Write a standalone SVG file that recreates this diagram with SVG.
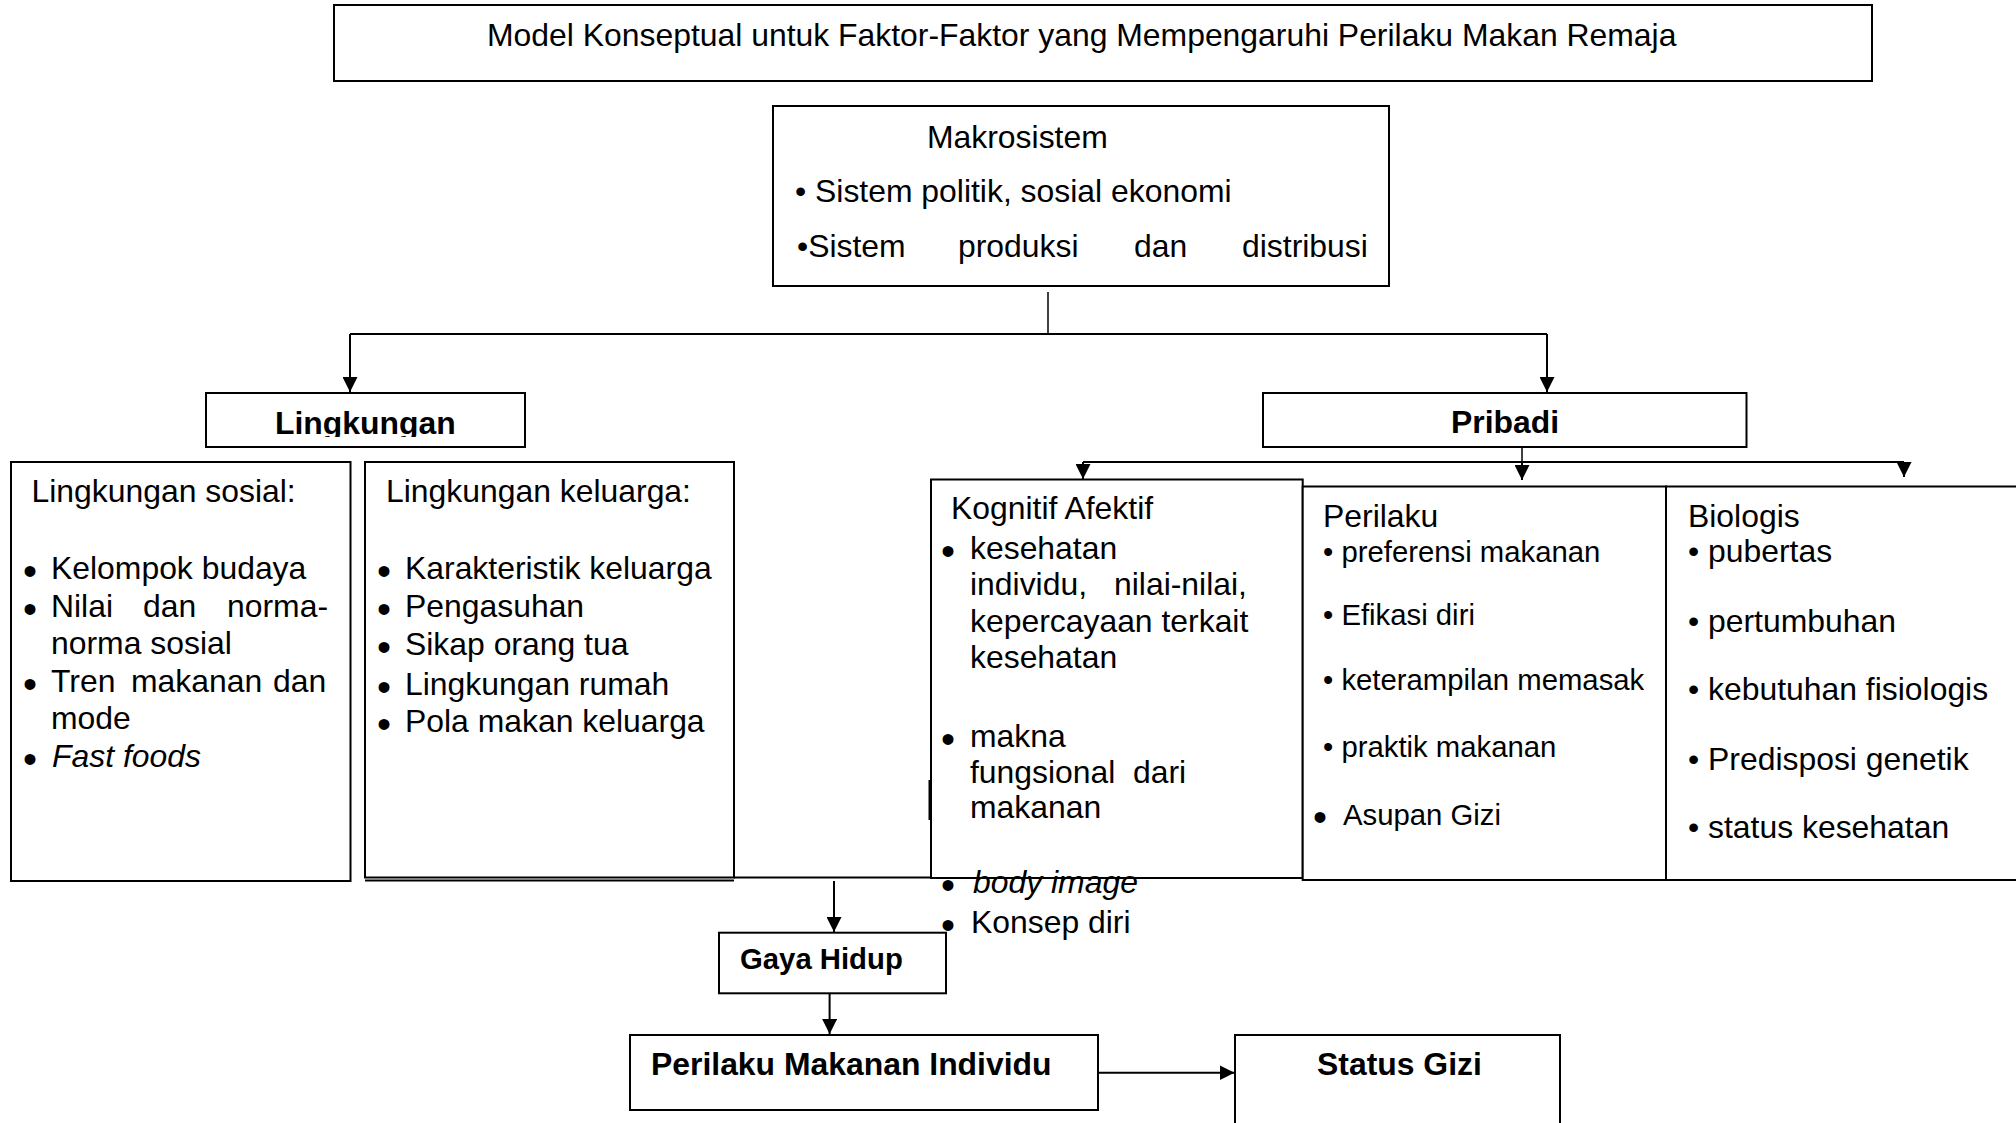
<svg xmlns="http://www.w3.org/2000/svg" width="2016" height="1123" viewBox="0 0 2016 1123">
<defs>
<style>
text{font-family:"Liberation Sans",Arial,sans-serif;fill:#000}
.t{font-size:31.9px}
.s{font-size:29.3px}
.b{font-weight:bold}
.i{font-style:italic}
.bl{font-size:40px;text-anchor:middle;font-style:normal}
.box{fill:#fff;stroke:#000;stroke-width:2}
.ln{fill:none;stroke:#000;stroke-width:2}
.thin{fill:none;stroke:#000;stroke-width:1.5}
</style>
<marker id="ah" markerWidth="15" markerHeight="15" refX="15" refY="7.5" orient="auto" markerUnits="userSpaceOnUse"><path d="M0,0 L15,7.5 L0,15 z" fill="#000"/></marker>
<clipPath id="clipL"><rect x="206" y="393" width="320" height="44"/></clipPath>
</defs>
<rect width="2016" height="1123" fill="#fff"/>

<g id="title">
<rect class="box" x="334" y="5" width="1538" height="76"/>
<text class="t" x="487" y="46">Model Konseptual untuk Faktor-Faktor yang Mempengaruhi Perilaku Makan Remaja</text>
</g>

<g id="makrosistem">
<rect class="box" x="773" y="106" width="616" height="180"/>
<text class="t" x="927" y="148">Makrosistem</text>
<text class="t" x="795" y="202">• Sistem politik, sosial ekonomi</text>
<text class="t" y="257"><tspan x="797">•Sistem</tspan><tspan x="958">produksi</tspan><tspan x="1134">dan</tspan><tspan x="1242">distribusi</tspan></text>
</g>

<g id="lingkungan">
<rect class="box" x="206" y="393" width="319" height="54"/>
<text class="t b" x="275" y="434" clip-path="url(#clipL)">Lingkungan</text>
</g>

<g id="pribadi">
<rect class="box" x="1263" y="393" width="483.5" height="54"/>
<text class="t b" x="1451" y="433">Pribadi</text>
</g>

<g id="lingkungan-sosial">
<rect class="box" x="11" y="462" width="339.5" height="419"/>
<text class="t" x="31.5" y="502">Lingkungan sosial:</text>
<text class="t" y="578.5"><tspan class="bl" x="30" dy="6">•</tspan><tspan x="51" dy="-6">Kelompok budaya</tspan></text>
<text class="t" y="617"><tspan class="bl" x="30" dy="6">•</tspan><tspan x="51" dy="-6">Nilai</tspan><tspan x="143">dan</tspan><tspan x="227">norma-</tspan></text>
<text class="t" x="51" y="653.5">norma sosial</text>
<text class="t" y="692"><tspan class="bl" x="30" dy="6">•</tspan><tspan x="51" dy="-6">Tren</tspan><tspan x="131">makanan</tspan><tspan x="273">dan</tspan></text>
<text class="t" x="51" y="728.5">mode</text>
<text class="t" y="767"><tspan class="bl" x="30" dy="6">•</tspan><tspan class="i" x="52" dy="-6">Fast foods</tspan></text>
</g>

<g id="lingkungan-keluarga">
<rect class="box" x="365" y="462" width="369" height="415.5"/>
<path class="ln" d="M365,880.5 H734 M734,877.5 H931"/>
<text class="t" x="386" y="502">Lingkungan keluarga:</text>
<text class="t" y="578.5"><tspan class="bl" x="384" dy="6">•</tspan><tspan x="405" dy="-6">Karakteristik keluarga</tspan></text>
<text class="t" y="617"><tspan class="bl" x="384" dy="6">•</tspan><tspan x="405" dy="-6">Pengasuhan</tspan></text>
<text class="t" y="655"><tspan class="bl" x="384" dy="6">•</tspan><tspan x="405" dy="-6">Sikap orang tua</tspan></text>
<text class="t" y="695"><tspan class="bl" x="384" dy="6">•</tspan><tspan x="405" dy="-6">Lingkungan rumah</tspan></text>
<text class="t" y="732"><tspan class="bl" x="384" dy="6">•</tspan><tspan x="405" dy="-6">Pola makan keluarga</tspan></text>
</g>

<g id="kognitif-afektif">
<rect class="box" x="931" y="479.5" width="371.7" height="398.5"/>
<path class="ln" d="M929.5,780 V820"/>
<text class="t" x="951" y="519">Kognitif Afektif</text>
<text class="t" y="559"><tspan class="bl" x="948" dy="6">•</tspan><tspan x="970" dy="-6">kesehatan</tspan></text>
<text class="t" y="595"><tspan x="970">individu,</tspan><tspan x="1114">nilai-nilai,</tspan></text>
<text class="t" x="970" y="631.5">kepercayaan terkait</text>
<text class="t" x="970" y="668">kesehatan</text>
<text class="t" y="746.5"><tspan class="bl" x="948" dy="6">•</tspan><tspan x="970" dy="-6">makna</tspan></text>
<text class="t" y="783"><tspan x="970">fungsional</tspan><tspan x="1133">dari</tspan></text>
<text class="t" x="970" y="818">makanan</text>
<text class="t" y="893"><tspan class="bl" x="948" dy="6">•</tspan><tspan class="i" x="973" dy="-6">body image</tspan></text>
<text class="t" y="933"><tspan class="bl" x="948" dy="6">•</tspan><tspan x="971" dy="-6">Konsep diri</tspan></text>
</g>

<g id="perilaku">
<rect class="box" x="1302.7" y="486.5" width="363.3" height="393.5"/>
<text class="t" x="1323" y="527">Perilaku</text>
<text class="s" x="1323" y="561.5">• preferensi makanan</text>
<text class="s" x="1323" y="625">• Efikasi diri</text>
<text class="s" x="1323" y="690">• keterampilan memasak</text>
<text class="s" x="1323" y="756.5">• praktik makanan</text>
<text class="s" y="825"><tspan class="bl" x="1320" dy="6">•</tspan><tspan x="1343" dy="-6">Asupan Gizi</tspan></text>
</g>

<g id="biologis">
<rect class="box" x="1666" y="486.5" width="370" height="393.5"/>
<text class="t" x="1688" y="527">Biologis</text>
<text class="t" x="1688" y="562">• pubertas</text>
<text class="t" x="1688" y="632">• pertumbuhan</text>
<text class="t" x="1688" y="700">• kebutuhan fisiologis</text>
<text class="t" x="1688" y="770">• Predisposi genetik</text>
<text class="t" x="1688" y="838">• status kesehatan</text>
</g>

<g id="gaya-hidup">
<rect class="box" x="719" y="932.7" width="227" height="60.6"/>
<text class="s b" x="740" y="969">Gaya Hidup</text>
</g>

<g id="perilaku-makanan-individu">
<rect class="box" x="630" y="1035" width="468" height="75"/>
<text class="t b" x="651" y="1075">Perilaku Makanan Individu</text>
</g>

<g id="status-gizi">
<path class="ln" d="M1235,1130 V1035 H1560 V1130"/>
<text class="t b" x="1317" y="1075">Status Gizi</text>
</g>

<g id="connectors">
<path class="thin" d="M1048,292 V334"/>
<path class="ln" d="M350,334 H1547"/>
<path class="ln" d="M350,334 V392" marker-end="url(#ah)"/>
<path class="ln" d="M1547,334 V392" marker-end="url(#ah)"/>
<path class="thin" d="M1522,447 V462"/>
<path class="ln" d="M1083,462 H1904"/>
<path class="ln" d="M1083,462 V479" marker-end="url(#ah)"/>
<path class="ln" d="M1522,462 V480" marker-end="url(#ah)"/>
<path class="ln" d="M1904,462 V477" marker-end="url(#ah)"/>
<path class="ln" d="M834,881 V932" marker-end="url(#ah)"/>
<path class="ln" d="M829.6,993.3 V1034" marker-end="url(#ah)"/>
<path class="ln" d="M1098,1072.7 H1234.5" marker-end="url(#ah)"/>
</g>
</svg>
